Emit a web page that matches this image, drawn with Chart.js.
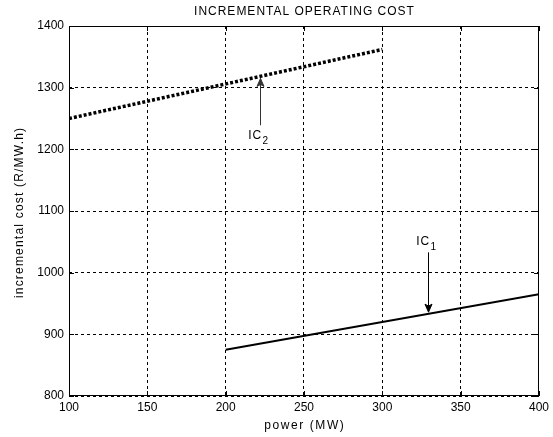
<!DOCTYPE html>
<html>
<head>
<meta charset="utf-8">
<script src="https://cdn.jsdelivr.net/npm/chart.js@4"></script>
<style>
  html, body { margin: 0; padding: 0; background: #fff; }
  #wrap { width: 553px; height: 437px; }
</style>
</head>
<body>
<div id="wrap"><canvas id="costChart" width="553" height="437"></canvas></div>
<script>
// incremental cost lines
const ic1Power = [200, 400];
const ic1Cost = [875, 965];
const ic2Power = [100, 300];
const ic2Cost = [1250, 1362];

const xTicks = [100, 150, 200, 250, 300, 350, 400];
const yTicks = [800, 900, 1000, 1100, 1200, 1300, 1400];

// label arrows
const arrowLabels = ['IC1', 'IC2'];
const arrowX = [329, 222];
const arrowFrom = [1033, 1239];
const arrowTo = [936, 1315];
const labelY = [1050, 1222];

const FONT = '"Liberation Sans", Arial, sans-serif';

function toPoints(xs, ys) {
  return xs.map((x, i) => ({ x: x, y: ys[i] }));
}

function spacedText(ctx, text, x, y, spacing) {
  ctx.letterSpacing = spacing + 'px';
  ctx.fillText(text, x + spacing / 2, y);
  ctx.letterSpacing = '0px';
}

const boxPlugin = {
  id: 'boxPlugin',
  afterDraw(chart) {
    const { ctx, chartArea: a, scales } = chart;
    ctx.save();
    // box
    ctx.strokeStyle = '#000';
    ctx.lineWidth = 1;
    ctx.setLineDash([]);
    ctx.strokeRect(a.left + 0.5, a.top + 0.5, a.right - a.left - 1, a.bottom - a.top - 1);
    // inward ticks
    ctx.beginPath();
    xTicks.forEach(v => {
      const px = Math.round(scales.x.getPixelForValue(v)) + 0.5;
      ctx.moveTo(px, a.bottom); ctx.lineTo(px, a.bottom - 5);
      ctx.moveTo(px, a.top); ctx.lineTo(px, a.top + 5);
    });
    yTicks.forEach(v => {
      const py = Math.round(scales.y.getPixelForValue(v)) + 0.5;
      ctx.moveTo(a.left, py); ctx.lineTo(a.left + 5, py);
      ctx.moveTo(a.right, py); ctx.lineTo(a.right - 5, py);
    });
    ctx.stroke();

    // title and axis titles
    ctx.fillStyle = '#000';
    ctx.font = '12px ' + FONT;
    ctx.textAlign = 'center';
    ctx.textBaseline = 'middle';
    const cx = (a.left + a.right) / 2;
    spacedText(ctx, 'INCREMENTAL OPERATING COST', cx, 12, 1);
    spacedText(ctx, 'power (MW)', cx, 426, 1.6);
    ctx.save();
    ctx.translate(20, (a.top + a.bottom) / 2 + 2);
    ctx.rotate(-Math.PI / 2);
    spacedText(ctx, 'incremental cost (R/MW.h)', 0, 0, 1.2);
    ctx.restore();

    // arrows with labels
    arrowLabels.forEach((lab, i) => {
      const x = Math.round(scales.x.getPixelForValue(arrowX[i])) + 0.5;
      const y0 = scales.y.getPixelForValue(arrowFrom[i]);
      const y1 = scales.y.getPixelForValue(arrowTo[i]);
      const dir = y1 > y0 ? 1 : -1;
      ctx.strokeStyle = i === 0 ? '#000' : '#333';
      ctx.fillStyle = i === 0 ? '#000' : '#333';
      ctx.lineWidth = 1;
      ctx.beginPath();
      ctx.moveTo(x, y0); ctx.lineTo(x, y1);
      ctx.stroke();
      ctx.beginPath();
      ctx.moveTo(x, y1);
      ctx.lineTo(x - 3.5, y1 - dir * 8);
      ctx.lineTo(x, y1 - dir * 6);
      ctx.lineTo(x + 3.5, y1 - dir * 8);
      ctx.closePath();
      ctx.fill();
      ctx.stroke();

      const ly = scales.y.getPixelForValue(labelY[i]);
      ctx.fillStyle = '#000';
      ctx.font = '12px ' + FONT;
      ctx.textAlign = 'right';
      ctx.textBaseline = 'middle';
      spacedText(ctx, 'IC', x + 1, ly, 0.8);
      ctx.font = '10px ' + FONT;
      ctx.textAlign = 'left';
      ctx.fillText(lab.slice(2), x + 2, ly + 5);
    });
    ctx.restore();
  }
};

new Chart(document.getElementById('costChart'), {
  type: 'line',
  data: {
    datasets: [
      {
        label: 'IC1',
        data: toPoints(ic1Power, ic1Cost),
        borderColor: '#000',
        borderWidth: 2,
        pointRadius: 0,
        fill: false
      },
      {
        label: 'IC2',
        data: toPoints(ic2Power, ic2Cost),
        borderColor: '#000',
        borderWidth: 3.5,
        borderDash: [3, 2],
        pointRadius: 0,
        fill: false
      }
    ]
  },
  options: {
    responsive: false,
    animation: false,
    layout: { padding: { top: 26, right: 14, left: 0, bottom: 0 } },
    plugins: {
      legend: { display: false },
      tooltip: { enabled: false }
    },
    scales: {
      x: {
        type: 'linear',
        min: 100,
        max: 400,
        afterBuildTicks: s => { s.ticks = xTicks.map(v => ({ value: v })); },
        afterFit: s => { s.height = 41; },
        grid: { color: '#000', drawTicks: false },
        border: { display: false, dash: [3, 3] },
        ticks: {
          color: '#000',
          padding: 4,
          font: { family: FONT, size: 12 },
          callback: v => String(v)
        }
      },
      y: {
        type: 'linear',
        min: 800,
        max: 1400,
        afterBuildTicks: s => { s.ticks = yTicks.map(v => ({ value: v })); },
        afterFit: s => { s.width = 69; },
        grid: { color: '#000', drawTicks: false },
        border: { display: false, dash: [3, 3] },
        ticks: {
          color: '#000',
          padding: 5,
          font: { family: FONT, size: 12 },
          callback: v => String(v)
        }
      }
    }
  },
  plugins: [boxPlugin]
});
</script>
</body>
</html>
